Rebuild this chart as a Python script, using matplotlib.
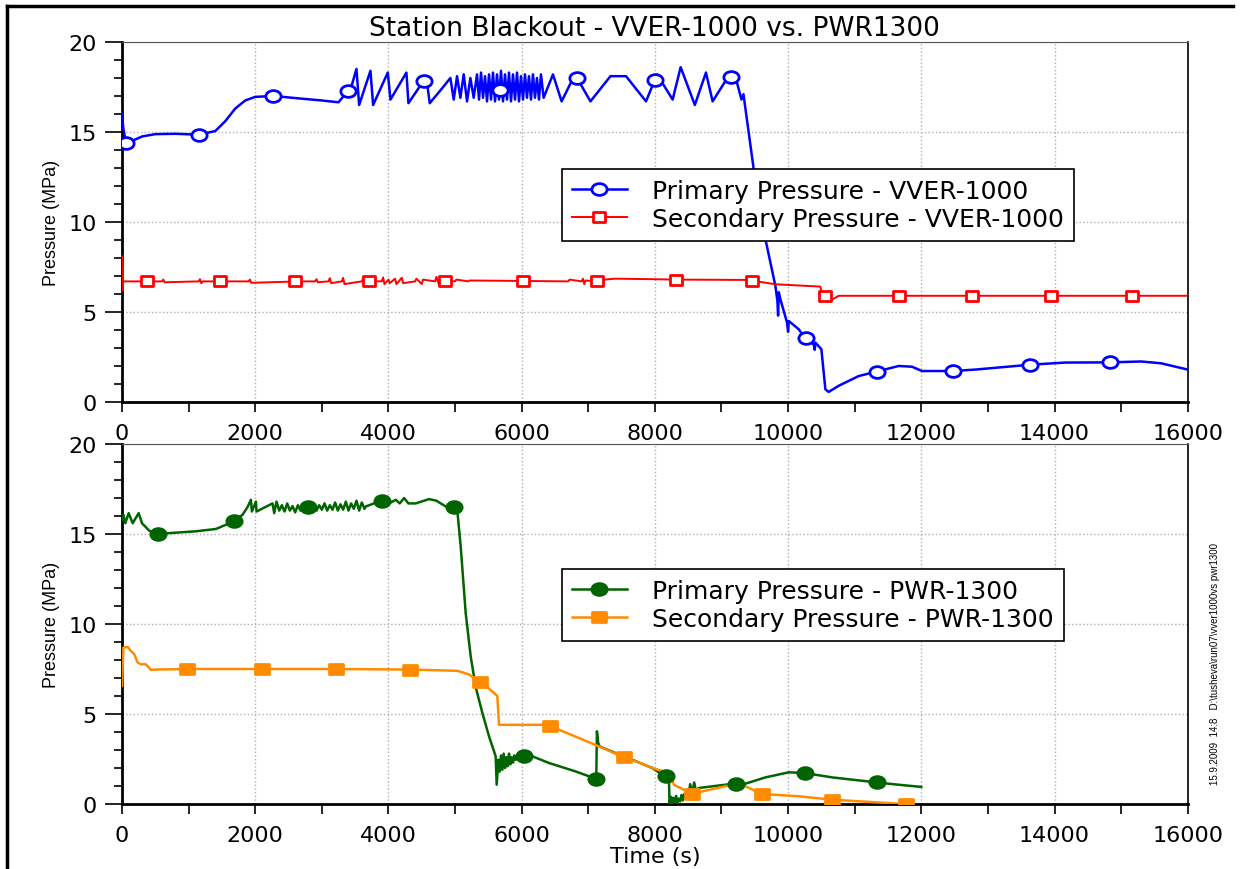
import numpy as np
import matplotlib
matplotlib.use('Agg')
from matplotlib import pyplot as plt
from matplotlib.lines import Line2D
from matplotlib.path import Path
from matplotlib.transforms import Affine2D

# ---- VVER-1000, primary pressure (MPa) ----
vver_prim_t = [0, 20, 60, 150, 300, 500, 800, 1150, 1400, 1550, 1700, 1850, 2000, 2270,
               2700, 3000, 3250, 3350, 3450, 3520, 3560, 3730, 3770, 3990, 4030, 4270,
               4300, 4520, 4570, 4620, 4800, 4930,
               4980, 5030, 5080, 5130, 5180, 5230, 5280, 5330,
               5360, 5390, 5420, 5450, 5480, 5510, 5540, 5570, 5600, 5630, 5660, 5690,
               5720, 5750, 5780, 5810, 5840, 5870, 5900, 5930, 5960, 5990, 6020, 6050,
               6080, 6110, 6140, 6170, 6200, 6230, 6260, 6290, 6330,
               6470, 6600, 6800, 7033, 7333, 7567, 7867, 8033, 8267, 8387, 8600, 8767,
               8867, 9080, 9200, 9300, 9330, 9485, 9660, 9810, 9840, 9850, 9860, 9885,
               9985, 10000, 10010, 10160, 10250, 10385, 10400, 10410, 10500, 10560,
               10610, 10760, 11060, 11330, 11660, 11860, 12010, 12160, 12470, 12810,
               13630, 14160, 14830, 15300, 15600, 16000]
vver_prim_p = [16.0, 15.2, 14.4, 14.5, 14.75, 14.88, 14.9, 14.85, 15.05, 15.6, 16.3, 16.75, 16.95, 17.0,
               16.85, 16.75, 16.65, 17.1, 17.6, 18.5, 16.5, 18.4, 16.5, 18.3, 16.8, 18.3,
               16.6, 17.8, 18.0, 16.6, 17.4, 18.0,
               16.8, 18.1, 16.9, 18.2, 16.7, 18.0, 16.9, 18.2,
               16.8, 18.3, 16.9, 18.1, 16.7, 18.2, 16.8, 18.3, 16.7, 18.2, 16.8, 18.4,
               16.7, 18.2, 16.8, 18.3, 16.7, 18.2, 16.8, 18.3, 16.7, 18.1, 16.8, 18.2,
               16.9, 18.1, 16.8, 18.2, 16.9, 18.0, 16.8, 18.2, 16.9,
               18.2, 16.7, 18.2, 16.7, 18.1, 18.1, 16.7, 18.2, 16.8, 18.6, 16.5, 18.3,
               16.7, 17.95, 18.2, 16.8, 17.1, 12.9, 9.04, 6.44, 5.6, 4.8, 6.1, 5.7,
               4.4, 3.9, 4.5, 4.04, 3.57, 3.2, 2.9, 3.3, 2.93, 0.7,
               0.56, 0.9, 1.44, 1.69, 2.0, 1.96, 1.72, 1.72, 1.72, 1.8,
               2.07, 2.19, 2.2, 2.25, 2.15, 1.8]
vver_prim_marks = [60, 1155, 2265, 3390, 4530, 5670, 6830, 8000, 9140, 10265, 11330, 12470, 13630, 14830]

# ---- VVER-1000, secondary pressure (MPa) ----
vver_sec_t = [0, 4, 8, 12, 16, 25, 600, 620, 640, 1150, 1170, 1190, 1210, 1900, 1920, 1940,
              2650, 2670, 2690, 2710, 2900, 2920, 2940, 3100, 3120, 3140, 3300, 3320, 3340,
              3600, 3620, 3640, 3660, 3900, 3920, 3940, 4000, 4020, 4100, 4120, 4200, 4220,
              4400, 4420, 4500, 4520, 4700, 4720, 4760, 4780, 5000, 5020, 5200, 5220,
              6700, 6720, 6900, 6920, 6940, 6960, 7100, 7250, 7400, 8000, 8300, 9400,
              9810, 10485, 10510, 10650, 10760, 11000, 16000]
vver_sec_p = [6.3, 8.1, 6.2, 7.5, 6.6, 6.7, 6.7, 6.8, 6.65, 6.7, 6.82, 6.6, 6.7, 6.7, 6.8, 6.62,
              6.7, 6.85, 6.6, 6.7, 6.7, 6.82, 6.65, 6.7, 6.88, 6.6, 6.7, 6.9, 6.55,
              6.7, 6.88, 6.55, 6.72, 6.7, 6.92, 6.55, 6.8, 6.6, 6.85, 6.55, 6.9, 6.6,
              6.7, 6.85, 6.55, 6.8, 6.7, 6.95, 6.5, 6.75, 6.7, 6.8, 6.7, 6.75,
              6.7, 6.8, 6.7, 6.85, 6.55, 6.75, 6.7, 6.8, 6.85, 6.82, 6.8, 6.78,
              6.54, 6.41, 5.98, 5.67, 5.9, 5.9, 5.9]
vver_sec_marks = [375, 1470, 2595, 3710, 4850, 6020, 7130, 8315, 9455, 10550, 11665, 12760, 13950, 15160]

# ---- PWR-1300, primary pressure (MPa) ----
pwr_prim_t = [0, 20, 50, 100, 160, 250, 300, 410, 540, 710, 1110, 1410, 1680, 1810, 1885, 1935,
              1950, 2010, 2020, 2260, 2285,
              2320, 2360, 2400, 2440, 2480, 2520, 2560, 2600, 2640, 2680, 2720, 2760, 2800,
              2840, 2880, 2920, 2960, 3000, 3040, 3080, 3120, 3160, 3200, 3240, 3280, 3320,
              3360, 3400, 3440, 3480, 3520, 3560, 3600, 3640,
              3660, 3900, 4010, 4110, 4170, 4235, 4300, 4410, 4610, 4720, 4860, 4985,
              5035, 5085, 5160, 5235, 5310, 5410, 5510, 5610, 5625, 5650,
              5670, 5690, 5710, 5730, 5750, 5770, 5790, 5810, 5830, 5850, 5870, 5890,
              5910, 6020, 6160, 6410, 6810, 7120, 7130, 7150, 7170, 7410, 7660, 7960,
              8150, 8210, 8220, 8240, 8260, 8280, 8300, 8320, 8340, 8360, 8380, 8400,
              8420, 8440, 8460, 8480, 8500, 8530, 8560, 8590, 8620, 8660, 9185, 9360,
              9660, 10010, 10250, 10660, 11330, 11660, 12000]
pwr_prim_p = [15.8, 16.07, 15.6, 16.16, 15.6, 16.16, 15.6, 15.18, 15.0, 15.05, 15.15, 15.28, 15.7, 16.07, 16.5, 16.9,
              16.25, 16.8, 16.25, 16.7, 16.16,
              16.8, 16.3, 16.6, 16.25, 16.7, 16.3, 16.55, 16.2, 16.6, 16.3, 16.7, 16.25, 16.6,
              16.35, 16.65, 16.3, 16.6, 16.35, 16.7, 16.3, 16.6, 16.35, 16.75, 16.3, 16.65, 16.35,
              16.8, 16.3, 16.7, 16.4, 16.85, 16.3, 16.75, 16.4,
              16.53, 16.86, 16.7, 16.9, 16.7, 17.0, 16.7, 16.7, 16.94, 16.85, 16.53, 16.48,
              16.26, 14.3, 10.6, 8.2, 6.5, 5.06, 3.76, 2.65, 1.07, 2.46,
              1.8, 2.7, 1.9, 2.8, 2.0, 2.6, 2.1, 2.8, 2.2, 2.6, 2.3, 2.7,
              2.46, 2.69, 2.65, 2.28, 1.81, 1.39, 4.04, 3.39, 3.2, 2.83, 2.46, 2.0,
              1.54, 1.63, 0.0, 0.4, 0.05, 0.35, 0.1, 0.45, 0.05, 0.3, 0.15, 0.5,
              0.2, 0.55, 0.3, 0.6, 0.4, 1.1, 0.6, 1.2, 0.7, 0.89, 1.13, 1.13,
              1.48, 1.76, 1.72, 1.48, 1.2, 1.07, 0.95]
pwr_prim_marks = [540, 1680, 2790, 3900, 4985, 6030, 7120, 8165, 9215, 10250, 11330]

# ---- PWR-1300, secondary pressure (MPa) ----
pwr_sec_t = [0, 20, 85, 135, 185, 235, 285, 360, 435, 500, 975, 2100, 3200, 4320, 5035, 5210,
             5370, 5460, 5635, 5660, 6310, 6420, 6560, 7160, 7535, 7760, 8010, 8235, 8285,
             8555, 9160, 9360, 9605, 10160, 10655, 11660, 11770]
pwr_sec_p = [6.56, 8.69, 8.72, 8.5, 8.32, 7.86, 7.76, 7.76, 7.45, 7.47, 7.5, 7.5, 7.5, 7.47, 7.4, 7.2,
             6.76, 6.57, 6.0, 4.4, 4.4, 4.35, 4.13, 3.2, 2.6, 2.3, 1.94, 1.72, 1.07,
             0.57, 1.07, 0.98, 0.56, 0.43, 0.24, 0.02, 0.0]
pwr_sec_marks = [975, 2100, 3210, 4320, 5370, 6420, 7535, 8555, 9605, 10655, 11770]

# the source picture is stretched sideways, so markers are a bit wider than tall
circ = Path.unit_circle().transformed(Affine2D().scale(1.3, 1.0))
sq = Path([(-0.65, -0.5), (0.65, -0.5), (0.65, 0.5), (-0.65, 0.5), (-0.65, -0.5)],
          [Path.MOVETO, Path.LINETO, Path.LINETO, Path.LINETO, Path.CLOSEPOLY])

plt.rcParams['font.family'] = ['DejaVu Sans']
narrow = ['Liberation Sans Narrow', 'Liberation Sans', 'DejaVu Sans']

fig = plt.figure(figsize=(12.45, 8.70), dpi=100)
ax1 = fig.add_axes([0.098, 0.5368, 0.856, 0.4138])
ax2 = fig.add_axes([0.098, 0.0747, 0.856, 0.4138])


def draw(ax, t, p, marks, color, marker, mfc, ms, lw, label):
    ax.plot(t, p, color=color, lw=lw, zorder=3)
    ax.plot(marks, np.interp(marks, t, p), ls='none', marker=marker, ms=ms,
            mfc=mfc, mec=color, mew=2, zorder=4)
    return Line2D([], [], color=color, lw=lw, marker=marker, ms=ms, mfc=mfc,
                  mec=color, mew=2, label=label)


h1 = draw(ax1, vver_prim_t, vver_prim_p, vver_prim_marks, '#0000ff', circ, 'white', 11, 1.8,
          'Primary Pressure - VVER-1000')
h2 = draw(ax1, vver_sec_t, vver_sec_p, vver_sec_marks, '#ff0000', sq, 'white', 9, 1.4,
          'Secondary Pressure - VVER-1000')
h3 = draw(ax2, pwr_prim_t, pwr_prim_p, pwr_prim_marks, '#006400', circ, '#006400', 11, 1.8,
          'Primary Pressure - PWR-1300')
h4 = draw(ax2, pwr_sec_t, pwr_sec_p, pwr_sec_marks, '#ff8c00', sq, '#ff8c00', 10, 1.8,
          'Secondary Pressure - PWR-1300')

for ax in (ax1, ax2):
    ax.set_xlim(0, 16000)
    ax.set_ylim(0, 20)
    ax.set_xticks(np.arange(0, 16001, 2000))
    ax.set_xticks(np.arange(0, 16001, 1000), minor=True)
    ax.set_yticks(np.arange(0, 21, 5))
    ax.set_yticks(np.arange(0, 21, 1), minor=True)
    ax.grid(True, which='major', color='#b0b0b0', ls=':', lw=1)
    ax.set_axisbelow(True)
    ax.tick_params(axis='both', which='both', direction='out', labelsize=16, width=1.2)
    ax.tick_params(axis='y', which='major', length=12, pad=6)
    ax.tick_params(axis='y', which='minor', length=6)
    ax.tick_params(axis='x', which='both', length=7, pad=8)
    for s in ('left', 'bottom'):
        ax.spines[s].set_linewidth(2)
    ax.spines['top'].set_color('#555555')
    ax.spines['right'].set_linewidth(1.2)
    ax.set_ylabel('Pressure (MPa)', family=narrow, fontsize=13, labelpad=6)

ax1.set_title('Station Blackout - VVER-1000 vs. PWR1300', fontsize=19, pad=5)
ax2.set_xlabel('Time (s)', fontsize=16, labelpad=1)

leg_kw = dict(loc='upper left', fontsize=18, frameon=True, fancybox=False, framealpha=1,
              edgecolor='black', handlelength=2.2, borderpad=0.4, labelspacing=0.15,
              handletextpad=1.0, borderaxespad=0)
l1 = ax1.legend(handles=[h1, h2], bbox_to_anchor=(0.4514, 0.8046), bbox_transform=fig.transFigure, **leg_kw)
l2 = ax2.legend(handles=[h3, h4], bbox_to_anchor=(0.4514, 0.3448), bbox_transform=fig.transFigure, **leg_kw)
for l in (l1, l2):
    l.get_frame().set_linewidth(1.2)

fig.text(0.976, 1 - 785 / 870, '15.9.2009  14:8   D:\\tusheva\\run07\\vver1000vs pwr1300', rotation=90,
         family=narrow, fontsize=7, ha='center', va='bottom')

# outer frame of the original picture
x0, y0 = 7 / 1245, 1 - 7 / 870
fig.add_artist(Line2D([x0, x0], [0, y0], color='black', lw=2.5))
fig.add_artist(Line2D([x0, 1 - 12 / 1245], [y0, y0], color='black', lw=2.5))

fig.savefig('out.png', dpi=100)
